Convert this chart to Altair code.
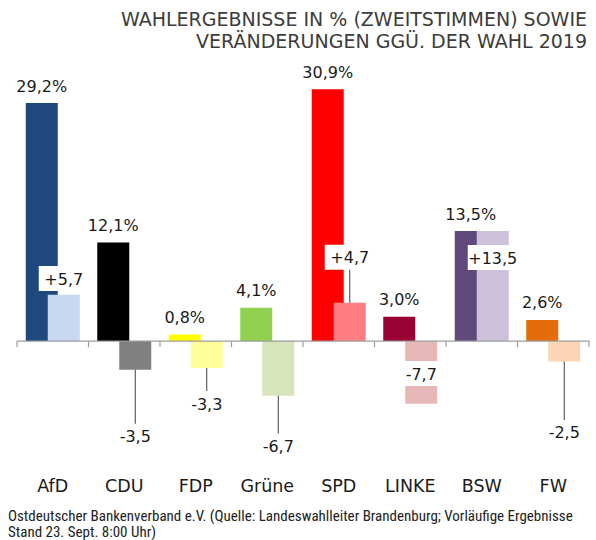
import altair as alt
import pandas as pd

# ---------------- data ----------------
parties = ["AfD", "CDU", "FDP", "Grüne", "SPD", "LINKE", "BSW", "FW"]
result_2024 = [29.2, 12.1, 0.8, 4.1, 30.9, 3.0, 13.5, 2.6]
change_vs_2019 = [5.7, -3.5, -3.3, -6.7, 4.7, -7.7, 13.5, -2.5]
main_colors = ["#1F497D", "#000000", "#FFFF00", "#92D050", "#FF0000", "#990033", "#604A7B", "#E36C09"]
change_colors = ["#C6D9F1", "#808080", "#FFFF99", "#D8E4BC", "#FF7C80", "#E6B9B8", "#CCC0DA", "#FCD5B4"]
# where each change label was placed (same units as the value axis)
change_label_at = [7.67, -11.66, -7.67, -12.88, 10.3, -3.99, 10.25, -11.2]

title_lines = ["WAHLERGEBNISSE IN % (ZWEITSTIMMEN) SOWIE", "VERÄNDERUNGEN GGÜ. DER WAHL 2019"]
source_lines = [
    "Ostdeutscher Bankenverband e.V. (Quelle: Landeswahlleiter Brandenburg; Vorläufige Ergebnisse",
    "Stand 23. Sept. 8:00 Uhr)",
]

# ---------------- layout / style ----------------
W = 572
Y_MIN, Y_MAX = -16, 34
PX = 8.15
H = (Y_MAX - Y_MIN) * PX
BAND = W / len(parties)
BAR_W = 32
MAIN_OFF = -11
CHANGE_OFF = 11
FONT = "DejaVu Sans"
SRC_FONT = "Liberation Sans Narrow, Roboto Condensed, Arial Narrow, sans-serif"
TXT = "#1a1a1a"
AXIS_GRAY = "#9d9d9d"


def fmt(v, sign=False):
    s = f"{abs(v):.1f}".replace(".", ",")
    if v < 0:
        return "-" + s
    return ("+" + s) if sign else s


df = pd.DataFrame({
    "party": parties,
    "result": result_2024,
    "change": change_vs_2019,
    "main_color": main_colors,
    "change_color": change_colors,
    "label_at": change_label_at,
})
df["result_label"] = [fmt(v) + "%" for v in result_2024]
df["change_label"] = [fmt(v, sign=True) for v in change_vs_2019]
# leader line only when the label sits clearly outside its bar
df["leader"] = [
    ((la > c) if c >= 0 else (la < c)) and (abs(la - c) * PX - 12.5 > 8)
    for c, la in zip(change_vs_2019, change_label_at)
]
df["last"] = [p == parties[-1] for p in parties]

x_scale = alt.Scale(domain=parties, paddingInner=0, paddingOuter=0)
y_scale = alt.Scale(domain=[Y_MIN, Y_MAX], nice=False, zero=False)

X = alt.X(
    "party:N", sort=parties, scale=x_scale,
    axis=alt.Axis(title=None, domain=False, ticks=False, tickSize=0, labelAngle=0,
                  labelFont=FONT, labelFontSize=17.5, labelColor=TXT,
                  labelPadding=19.5, labelBaseline="alphabetic"),
)

base = alt.Chart(df)

main_bars = base.mark_bar(size=BAR_W, xOffset=MAIN_OFF).encode(
    x=X,
    y=alt.Y("result:Q", scale=y_scale, axis=None),
    color=alt.Color("main_color:N", scale=None),
)
main_text = base.mark_text(dx=MAIN_OFF, dy=-11.5, baseline="alphabetic", font=FONT,
                           fontSize=16, color=TXT).encode(
    x=X, y=alt.Y("result:Q", scale=y_scale, axis=None), text="result_label:N"
)
change_bars = base.mark_bar(size=BAR_W, xOffset=CHANGE_OFF).encode(
    x=X,
    y=alt.Y("change:Q", scale=y_scale, axis=None),
    color=alt.Color("change_color:N", scale=None),
)
leaders = base.transform_filter("datum.leader").mark_rule(
    xOffset=CHANGE_OFF, color="#404040", strokeWidth=1
).encode(x=X, y=alt.Y("change:Q", scale=y_scale, axis=None), y2="label_at:Q")

box_path = "M-1,-0.5L1,-0.5L1,0.5L-1,0.5Z"
boxes = base.mark_point(shape=box_path, size=2500, filled=True, fill="white",
                        opacity=1, strokeWidth=0, xOffset=CHANGE_OFF).encode(
    x=X, y=alt.Y("label_at:Q", scale=y_scale, axis=None)
)
change_text = base.mark_text(dx=CHANGE_OFF, dy=1, baseline="middle", font=FONT,
                             fontSize=16, color=TXT).encode(
    x=X, y=alt.Y("label_at:Q", scale=y_scale, axis=None), text="change_label:N"
)

zero_line = alt.Chart(pd.DataFrame({"v": [0]})).mark_rule(color=AXIS_GRAY, strokeWidth=1.2).encode(
    y=alt.Y("v:Q", scale=y_scale, axis=None)
)
ticks_start = base.mark_rule(color=AXIS_GRAY, strokeWidth=1.2, xOffset=-BAND / 2).encode(
    x=X, y=alt.datum(0, scale=y_scale), y2=alt.datum(-6 / PX)
)
ticks_end = base.transform_filter("datum.last").mark_rule(
    color=AXIS_GRAY, strokeWidth=1.2, xOffset=BAND / 2
).encode(x=X, y=alt.datum(0, scale=y_scale), y2=alt.datum(-6 / PX))

one = pd.DataFrame({"t": [0]})
title = alt.Chart(one).mark_text(
    text=title_lines, lineHeight=21.5, align="right", baseline="alphabetic",
    font=FONT, fontSize=19, color="#3c3c3c"
).encode(x=alt.value(W - 2), y=alt.value(26 - 64))

source = alt.Chart(one).mark_text(
    text=source_lines, lineHeight=16.5, align="left", baseline="alphabetic",
    font=SRC_FONT, fontSize=15, color="#222222"
).encode(x=alt.value(8 - 17), y=alt.value(520.5 - 64))

chart = alt.layer(
    main_bars, change_bars, leaders, boxes, main_text, change_text,
    zero_line, ticks_start, ticks_end, title, source,
).properties(
    width=W, height=H,
    autosize=alt.AutoSizeParams(type="none"),
    padding={"left": 17, "top": 64, "right": 596 - 17 - W, "bottom": 540 - 64 - H},
    background="white",
).configure_view(stroke=None)

chart.save("out.html", embed_options={"renderer": "svg", "actions": False})
